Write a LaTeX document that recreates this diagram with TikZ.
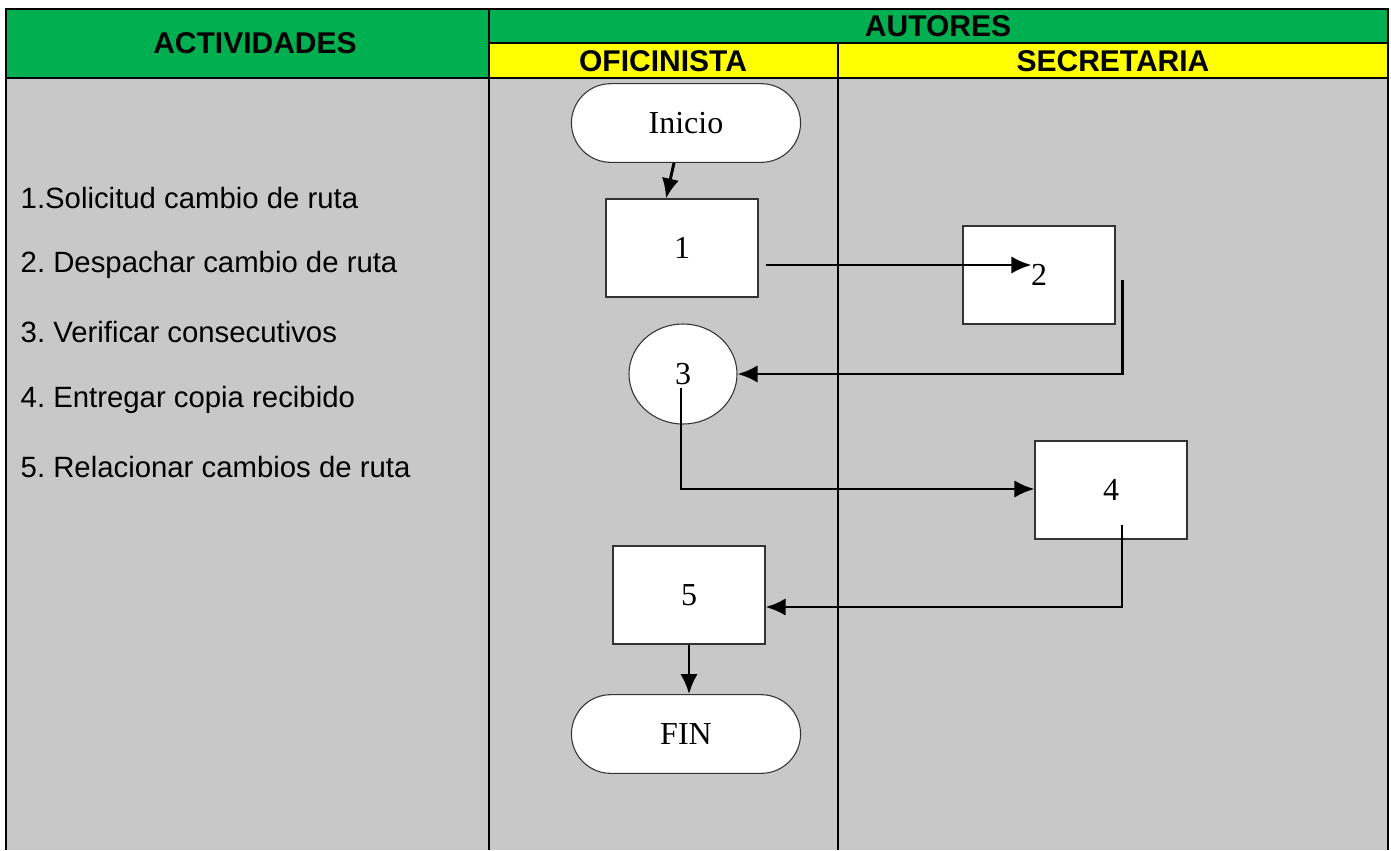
\documentclass[tikz,border=0pt]{standalone}
\usepackage{fontspec}
\setmainfont{Liberation Serif}
\newfontfamily\arial{Liberation Sans}
\usetikzlibrary{arrows.meta,shapes.geometric,shapes.misc}
\definecolor{verde}{RGB}{0,176,80}
\definecolor{amarillo}{RGB}{255,255,0}
\definecolor{gris}{RGB}{200,200,200}
\frenchspacing
\tikzset{
  caja/.style={draw=black!80,fill=white,line width=.8pt,minimum width=114pt,minimum height=73.5pt,font=\fontsize{24}{28}\selectfont},
  ovalo/.style={draw=black!80,fill=white,line width=.8pt,rounded rectangle,minimum width=178.5pt,minimum height=59pt,font=\fontsize{24}{28}\selectfont},
  circulo/.style={draw=black!80,fill=white,line width=.8pt,ellipse,minimum width=81pt,minimum height=75pt,inner sep=0pt,font=\fontsize{24}{28}\selectfont},
  flecha/.style={->,line width=2.2pt},
  encab/.style={font=\arial\bfseries\fontsize{22.5}{26}\selectfont},
  activ/.style={anchor=west,font=\arial\fontsize{22}{26}\selectfont}
}
\begin{document}
\begin{tikzpicture}[x=.75pt,y=-.75pt,>={Latex[length=15pt,width=13pt]}]
\useasboundingbox (0,0) rectangle (1391,850);
% fondos
\fill[gris] (6,78) rectangle (1388,850);
\fill[verde] (6,9) rectangle (489,78);
\fill[verde] (489,9) rectangle (1388,43);
\fill[amarillo] (489,43) rectangle (1388,78);
% lineas de la tabla
\draw[line width=2.2pt] (6,850)--(6,9)--(1388,9)--(1388,850);
\draw[line width=2.2pt] (6,78)--(1388,78);
\draw[line width=2pt] (489,43)--(1388,43);
\draw[line width=2.2pt] (489,9)--(489,850);
\draw[line width=2.2pt] (838,43)--(838,850);
% encabezados
\node[encab] (hact) at (255,43){ACTIVIDADES};
\node[encab] (haut) at (938,26){AUTORES};
\node[encab] (hofi) at (663,61){OFICINISTA};
\node[encab] (hsec) at (1113,61){SECRETARIA};
% actividades
\node[activ] (a1) at (16,198){1.Solicitud cambio de ruta};
\node[activ] (a2) at (16,265){2. Despachar cambio de ruta};
\node[activ] (a3) at (16,332){3. Verificar consecutivos};
\node[activ] (a4) at (16,400){4. Entregar copia recibido};
\node[activ] (a5) at (16,467){5. Relacionar cambios de ruta};
% diagrama
\node[ovalo] (ini) at (686,123){Inicio};
\node[caja] (b1) at (682,248){1};
\node[caja] (b2) at (1039,275){2};
\node[circulo] (c3) at (683,374){3};
\node[caja] (b4) at (1111,490){4};
\node[caja] (b5) at (689,595){5};
\node[ovalo] (fin) at (686,734){FIN};

\draw[flecha] ([xshift=-9pt]ini.south)--([xshift=-12pt]b1.north);
\draw[flecha] ([shift={(7,17)}]b1.east)--([shift={(69,-10)}]b2.west);
\draw[flecha] ([shift={(7,5)}]b2.east)|-(c3.east);
\draw[flecha] ([shift={(-2,14)}]c3.center)|-([yshift=.75pt]b4.west);
\draw[flecha] ([shift={(11,35)}]b4.center)|-([shift={(0,12)}]b5.east);
\draw[flecha] (b5.south)--(b5.south |- fin.north);

\end{tikzpicture}
\end{document}
